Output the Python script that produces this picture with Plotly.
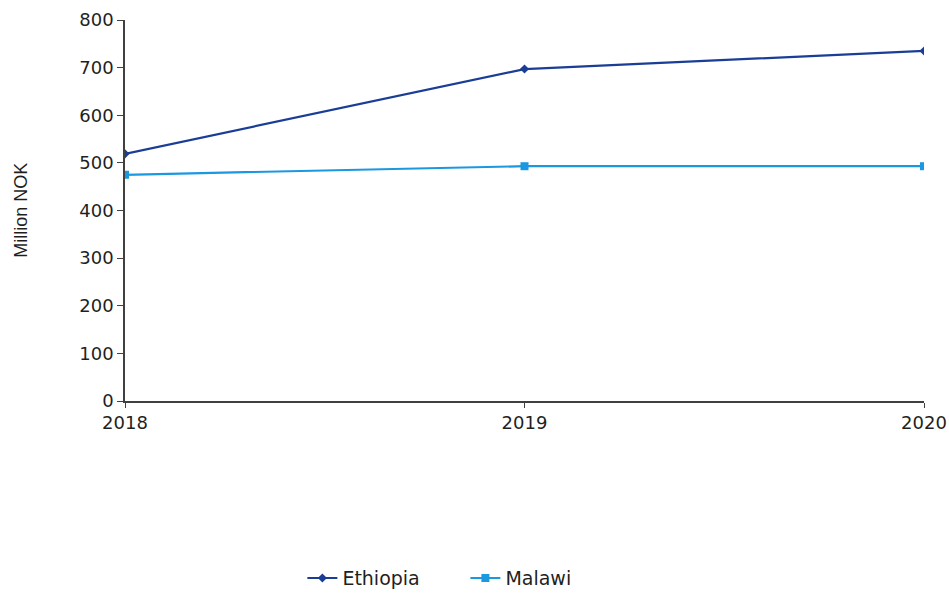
import plotly.graph_objects as go

years = [2018, 2019, 2020]
ethiopia = [519, 697, 735]
malawi = [475, 493, 493]
y_ticks = [0, 100, 200, 300, 400, 500, 600, 700, 800]

dark_blue = "#1a3d96"
light_blue = "#1a98e0"
text_color = "#1f1f1f"
axis_color = "#404040"

fig = go.Figure()
fig.add_trace(go.Scatter(
    x=years, y=ethiopia, name="Ethiopia", mode="lines+markers",
    line=dict(color=dark_blue, width=2.2),
    marker=dict(symbol="diamond", size=7, color=dark_blue),
))
fig.add_trace(go.Scatter(
    x=years, y=malawi, name="Malawi", mode="lines+markers",
    line=dict(color=light_blue, width=2.2),
    marker=dict(symbol="square", size=8, color=light_blue),
))

fig.update_layout(
    width=949, height=594,
    margin=dict(l=125, r=25, t=20, b=193, autoexpand=False),
    plot_bgcolor="white", paper_bgcolor="white",
    font=dict(family="DejaVu Sans", size=18, color=text_color),
    showlegend=True,
    legend=dict(
        orientation="h", x=0.222, xanchor="left", y=-0.465, yanchor="middle",
        font=dict(size=19), entrywidth=118, tracegroupgap=0,
    ),
    xaxis=dict(
        range=[2018, 2020], tickvals=years, ticktext=[str(y) for y in years],
        showgrid=False, zeroline=False, showline=True, linecolor=axis_color,
        linewidth=1.5, ticks="outside", ticklen=5, tickcolor=axis_color,
    ),
    yaxis=dict(
        range=[0, 800], tickvals=y_ticks, showgrid=False, zeroline=False,
        showline=True, linecolor=axis_color, linewidth=1.5,
        ticks="outside", ticklen=6, tickcolor=axis_color,
    ),
)

fig.add_annotation(
    text="Million NOK", xref="paper", yref="paper",
    x=-0.131, y=0.5, xanchor="center", yanchor="middle",
    textangle=-90, showarrow=False,
    font=dict(family="Liberation Sans", size=18, color=text_color),
)

fig.write_html("out.html")
